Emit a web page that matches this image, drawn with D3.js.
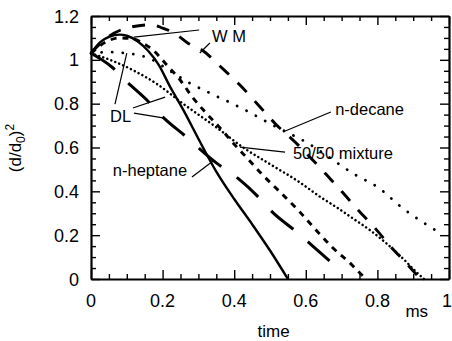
<!DOCTYPE html>
<html>
<head>
<meta charset="utf-8">
<script src="https://cdn.jsdelivr.net/npm/d3@7"></script>
<style>
  body { margin: 0; background: #fff; }
  svg { display: block; }
  text { font-family: "Liberation Sans", Arial, Helvetica, sans-serif; fill: #000; }
</style>
</head>
<body>
<svg id="chart" width="452" height="341"></svg>
<script>
// n-heptane, well-mixed model (solid)
const heptaneWMTime = [0, 0.025, 0.05, 0.08, 0.1, 0.13, 0.16, 0.19, 0.22, 0.26, 0.3, 0.35, 0.4, 0.45, 0.5, 0.55];
const heptaneWMValue = [1.03, 1.08, 1.105, 1.115, 1.11, 1.085, 1.04, 0.975, 0.88, 0.765, 0.64, 0.49, 0.365, 0.25, 0.13, 0];

// n-heptane, diffusion limit (long thick dashes)
const heptaneDLTime = [0, 0.06, 0.1, 0.16, 0.2, 0.26, 0.35, 0.41, 0.47, 0.506, 0.575, 0.61, 0.673];
const heptaneDLValue = [1.03, 0.965, 0.9, 0.81, 0.74, 0.657, 0.53, 0.46, 0.37, 0.306, 0.214, 0.164, 0.073];

// 50/50 mixture, well-mixed (short dashes)
const mixWMTime = [0, 0.04, 0.08, 0.12, 0.14, 0.173, 0.212, 0.249, 0.285, 0.32, 0.36, 0.4, 0.44, 0.48, 0.528, 0.578, 0.626, 0.673, 0.729, 0.751, 0.769];
const mixWMValue = [1.03, 1.08, 1.1, 1.095, 1.08, 1.045, 0.976, 0.908, 0.826, 0.76, 0.69, 0.615, 0.545, 0.474, 0.397, 0.315, 0.228, 0.146, 0.064, 0.027, 0];

// 50/50 mixture, diffusion limit (dense dots)
const mixDLTime = [0, 0.053, 0.117, 0.184, 0.257, 0.352, 0.425, 0.49, 0.584, 0.64, 0.687, 0.732, 0.78, 0.827, 0.872, 0.91, 0.93];
const mixDLValue = [1.03, 1.0, 0.953, 0.89, 0.8, 0.69, 0.6, 0.534, 0.44, 0.375, 0.326, 0.276, 0.222, 0.16, 0.092, 0.03, 0];

// n-decane, well-mixed (long dashes)
const decaneWMTime = [0, 0.04, 0.1, 0.17, 0.2, 0.235, 0.27, 0.31, 0.363, 0.416, 0.464, 0.514, 0.57, 0.656, 0.7, 0.746, 0.793, 0.838, 0.883, 0.92];
const decaneWMValue = [1.03, 1.095, 1.145, 1.16, 1.145, 1.12, 1.077, 1.045, 0.967, 0.885, 0.8, 0.71, 0.625, 0.479, 0.4, 0.315, 0.233, 0.146, 0.068, 0];

// n-decane, diffusion limit (sparse dots)
const decaneDLTime = [0, 0.05, 0.1, 0.165, 0.22, 0.28, 0.33, 0.42, 0.51, 0.6, 0.74, 0.8, 0.87, 0.975];
const decaneDLValue = [1.03, 1.035, 1.03, 1.005, 0.95, 0.89, 0.85, 0.78, 0.7, 0.625, 0.474, 0.42, 0.324, 0.21];

const xTickLabels = ['0', '0.2', '0.4', '0.6', '0.8', '1'];
const yTickLabels = ['0', '0.2', '0.4', '0.6', '0.8', '1', '1.2'];

const margin = { top: 16, right: 3, bottom: 62, left: 91 };
const width = 452 - margin.left - margin.right;
const height = 341 - margin.top - margin.bottom;

const svg = d3.select('#chart');
const g = svg.append('g').attr('transform', `translate(${margin.left},${margin.top})`);

const x = d3.scaleLinear().domain([0, 1]).range([0, width]);
const y = d3.scaleLinear().domain([0, 1.2]).range([height, 0]);

// series styles
const series = [
  { t: decaneDLTime, v: decaneDLValue, w: 2.8, dash: '0.1,10.5', cap: 'round' },
  { t: mixDLTime, v: mixDLValue, w: 2.5, dash: '0.1,4.2', cap: 'round' },
  { t: decaneWMTime, v: decaneWMValue, w: 2.9, dash: '13,12', cap: 'butt' },
  { t: mixWMTime, v: mixWMValue, w: 2.9, dash: '6,6', cap: 'butt' },
  { t: heptaneDLTime, v: heptaneDLValue, w: 3, dash: '29,19', cap: 'butt' },
  { t: heptaneWMTime, v: heptaneWMValue, w: 2.4, dash: null, cap: 'butt' }
];

const line = d3.line()
  .x(d => x(d[0]))
  .y(d => y(d[1]))
  .curve(d3.curveMonotoneX);

series.forEach(s => {
  g.append('path')
    .datum(s.t.map((t, i) => [t, s.v[i]]))
    .attr('d', line)
    .attr('fill', 'none')
    .attr('stroke', '#000')
    .attr('stroke-width', s.w)
    .attr('stroke-linecap', s.cap)
    .attr('stroke-dasharray', s.dash);
});

// axes: ticks point inwards on all four sides
const xMajor = d3.range(0, 1.0001, 0.2);
const xMinor = d3.range(0, 1.0001, 0.05);
const yMajor = d3.range(0, 1.2001, 0.2);
const yMinor = d3.range(0, 1.2001, 0.05);

function isMajor(v) { return Math.abs(v / 0.2 - Math.round(v / 0.2)) < 1e-6; }

const axBottom = g.append('g').attr('transform', `translate(0,${height})`)
  .call(d3.axisBottom(x).tickValues(xMinor).tickSizeInner(0).tickSizeOuter(0).tickFormat(''));
const axTop = g.append('g')
  .call(d3.axisTop(x).tickValues(xMinor).tickSizeInner(0).tickSizeOuter(0).tickFormat(''));
const axLeft = g.append('g')
  .call(d3.axisLeft(y).tickValues(yMinor).tickSizeInner(0).tickSizeOuter(0).tickFormat(''));
const axRight = g.append('g').attr('transform', `translate(${width},0)`)
  .call(d3.axisRight(y).tickValues(yMinor).tickSizeInner(0).tickSizeOuter(0).tickFormat(''));

axBottom.selectAll('.tick line').attr('y2', d => isMajor(d) ? -9 : -5);
axTop.selectAll('.tick line').attr('y2', d => isMajor(d) ? 9 : 5);
axLeft.selectAll('.tick line').attr('x2', d => isMajor(d) ? 9 : 5);
axRight.selectAll('.tick line').attr('x2', d => isMajor(d) ? -9 : -5);

[axBottom, axTop, axLeft, axRight].forEach(a => {
  a.select('.domain').attr('stroke', '#000').attr('stroke-width', 2.2);
  a.selectAll('.tick line').attr('stroke', '#000').attr('stroke-width', 1.4);
});

// tick labels (the last one sits flush with the right edge)
const lastX = xMajor.length - 1;
g.selectAll('.xlab').data(xMajor).enter().append('text')
  .attr('x', (d, i) => i === lastX ? x(d) + margin.right : x(d))
  .attr('y', height + 28)
  .attr('text-anchor', (d, i) => i === lastX ? 'end' : 'middle')
  .attr('font-size', 18)
  .text((d, i) => xTickLabels[i]);

g.selectAll('.ylab').data(yMajor).enter().append('text')
  .attr('x', -12).attr('y', d => y(d) + 6.5)
  .attr('text-anchor', 'end').attr('font-size', 18)
  .text((d, i) => yTickLabels[i]);

// axis titles
g.append('text').attr('x', x(0.51)).attr('y', height + 58)
  .attr('text-anchor', 'middle').attr('font-size', 17).text('time');
g.append('text').attr('x', x(0.91)).attr('y', height + 38)
  .attr('text-anchor', 'middle').attr('font-size', 17).text('ms');

const yTitle = svg.append('text')
  .attr('transform', 'translate(21,148) rotate(-90)')
  .attr('text-anchor', 'middle').attr('font-size', 17);
yTitle.append('tspan').text('(d/d');
yTitle.append('tspan').attr('font-size', 12).attr('dy', 4).text('0');
yTitle.append('tspan').attr('dy', -4).text(')');
yTitle.append('tspan').attr('font-size', 12).attr('dy', -7).text('2');

// annotations (data coordinates)
const labelText = ['W M', 'DL', 'n-heptane', '50/50 mixture', 'n-decane'];
const labelAt = [[0.338, 1.081], [0.053, 0.716], [0.061, 0.47], [0.564, 0.5475], [0.682, 0.748]];

labelText.forEach((t, i) => {
  g.append('text')
    .attr('x', x(labelAt[i][0])).attr('y', y(labelAt[i][1]))
    .attr('font-size', 16.5).text(t);
});

const leaders = [
  [[0.302, 1.136], [0.120, 1.104]],
  [[0.332, 1.077], [0.304, 1.031]],
  [[0.067, 0.798], [0.100, 1.031]],
  [[0.117, 0.780], [0.207, 0.830]],
  [[0.120, 0.757], [0.201, 0.735]],
  [[0.282, 0.465], [0.341, 0.538]],
  [[0.542, 0.579], [0.416, 0.602]],
  [[0.670, 0.762], [0.536, 0.671]]
];

leaders.forEach(l => {
  g.append('line')
    .attr('x1', x(l[0][0])).attr('y1', y(l[0][1]))
    .attr('x2', x(l[1][0])).attr('y2', y(l[1][1]))
    .attr('stroke', '#000').attr('stroke-width', 1.2);
});
</script>
</body>
</html>
